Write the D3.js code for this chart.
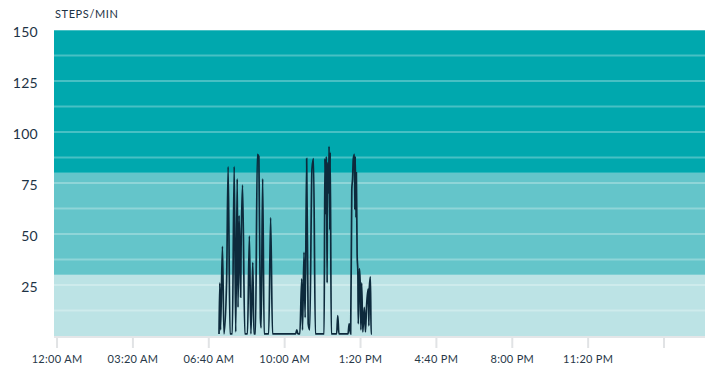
<!DOCTYPE html>
<html>
<head>
<meta charset="utf-8">
<script src="https://cdn.jsdelivr.net/npm/d3@7"></script>
<style>
  body { margin: 0; background: #fff; }
  text { font-family: "Lato", "Open Sans", sans-serif; }
</style>
</head>
<body>
<div id="chart"></div>
<script>
// clock times of the readings (24h) and steps per minute at each
var times = ["7:07","7:09","7:11","7:16","7:20","7:27","7:31","7:36","7:42","7:47",
             "7:51","7:55","7:57","8:00","8:04","8:05","8:09","8:15","8:22","8:27",
             "8:31","8:36","8:39","8:43","8:48","8:52","8:56","8:58","9:02","9:06",
             "9:18","9:23","9:28","10:29","10:32","10:35","10:40","10:45","10:47","10:51",
             "10:54","10:58","11:02","11:06","11:12","11:16","11:21","11:44","11:46","11:48",
             "11:50","11:52","11:53","11:56","11:57","11:59","12:00","12:03","12:17","12:20",
             "12:23","12:47","12:50","12:54","12:57","12:59","13:01","13:04","13:05","13:06",
             "13:08","13:09","13:11","13:13","13:14","13:17","13:19","13:21","13:23","13:26",
             "13:30","13:33","13:36","13:40","13:42","13:43","13:46","13:48","13:50"];
var steps = [1,26,3,44,1,27,83,1,1,83,
             2,77,14,59,19,40,74,1,1,49,
             1,36,1,1,89,88,9,4,77,1,
             1,58,1,1,3,1,1,28,3,41,
             9,87,6,3,82,87,1,1,87,60,
             88,26,85,70,93,52,90,1,1,10,
             1,1,6,1,72,77,87,89,62,88,
             58,80,40,31,6,33,27,3,26,2,
             14,2,15,23,5,23,29,1,1];

var yTicks = [25, 50, 75, 100, 125, 150];
var xTicks = [0, 200, 400, 600, 800, 1000, 1200, 1400, 1600];   // minutes after midnight
var xTickLabels = ["12:00 AM","03:20 AM","06:40 AM","10:00 AM","1:20 PM","4:40 PM","8:00 PM","11:20 PM",""];
var zoneEdges = [0, 30, 80, 150];
var zoneColors = ["#bce3e5", "#64c5ca", "#00a8ae"];

function init(){
    var w = 712, h = 368;
    var left = 54, right = 705, top = 30, bottom = 336;

    var data = times.map(function(t, i){
        var p = t.split(":");
        return { min: +p[0] * 60 + +p[1], steps: steps[i] };
    });

    var xScale = d3.scaleLinear()
                    .domain([-8, 1708])
                    .range([left, right]);

    var yScale = d3.scaleLinear()
                    .domain([0, 150])
                    .range([bottom, top]);

    var svg = d3.select("#chart")
                .append("svg")
                .attr("width", w)
                .attr("height", h);

    // coloured zones
    svg.selectAll("rect.zone")
        .data(zoneColors)
        .enter()
        .append("rect")
        .attr("class", "zone")
        .attr("x", left)
        .attr("width", right - left)
        .attr("y", function(d, i){ return yScale(zoneEdges[i + 1]); })
        .attr("height", function(d, i){ return yScale(zoneEdges[i]) - yScale(zoneEdges[i + 1]); })
        .attr("fill", function(d){ return d; });

    // faint white grid every 12.5
    svg.selectAll("line.grid")
        .data(d3.range(12.5, 151, 12.5))
        .enter()
        .append("line")
        .attr("class", "grid")
        .attr("x1", left)
        .attr("x2", right)
        .attr("y1", function(d){ return yScale(d); })
        .attr("y2", function(d){ return yScale(d); })
        .attr("stroke", "#fff")
        .attr("stroke-opacity", 0.28)
        .attr("stroke-width", 2);

    // bottom axis line + ticks
    svg.append("line")
        .attr("x1", left)
        .attr("x2", right)
        .attr("y1", bottom + 1)
        .attr("y2", bottom + 1)
        .attr("stroke", "#e4e6e8")
        .attr("stroke-width", 2);

    svg.selectAll("line.xtick")
        .data(xTicks)
        .enter()
        .append("line")
        .attr("class", "xtick")
        .attr("x1", function(d){ return xScale(d); })
        .attr("x2", function(d){ return xScale(d); })
        .attr("y1", bottom + 2)
        .attr("y2", bottom + 12)
        .attr("stroke", "#e1e3e5")
        .attr("stroke-width", 2);

    svg.selectAll("text.xlabel")
        .data(xTicks)
        .enter()
        .append("text")
        .attr("class", "xlabel")
        .attr("x", function(d){ return xScale(d); })
        .attr("y", 363)
        .attr("text-anchor", "middle")
        .attr("font-size", "11px")
        .attr("letter-spacing", "0.3px")
        .attr("fill", "#283848")
        .text(function(d, i){ return xTickLabels[i]; });

    // y labels
    svg.selectAll("text.ylabel")
        .data(yTicks)
        .enter()
        .append("text")
        .attr("class", "ylabel")
        .attr("x", 38)
        .attr("y", function(d){ return yScale(d) + 2; })
        .attr("dy", "0.35em")
        .attr("text-anchor", "end")
        .attr("font-size", "14px")
        .attr("letter-spacing", "0.3px")
        .attr("fill", "#1d3245")
        .text(function(d){ return d; });

    svg.append("text")
        .attr("x", left + 1)
        .attr("y", 18)
        .attr("font-size", "11px")
        .attr("letter-spacing", "0.6px")
        .attr("fill", "#1d3245")
        .text("STEPS/MIN");

    // the cadence line
    var line = d3.line()
                .curve(d3.curveMonotoneX)
                .x(function(d){ return xScale(d.min); })
                .y(function(d){ return yScale(d.steps); });

    svg.append("path")
        .datum(data)
        .attr("d", line)
        .attr("fill", "none")
        .attr("stroke", "#0d2a3c")
        .attr("stroke-width", 1.7);
}
window.onload = init;
</script>
</body>
</html>
